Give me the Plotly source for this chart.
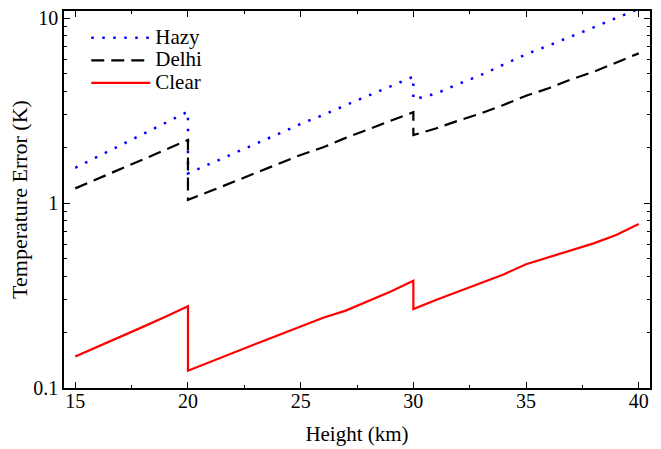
import plotly.graph_objects as go

height = [15, 16, 17, 18, 19, 20, 20, 21, 22, 23, 24, 25, 26, 27, 28, 29, 30,
          30, 31, 32, 33, 34, 35, 36, 37, 38, 39, 40]

hazy = [1.55, 1.78, 2.05, 2.35, 2.7, 3.12, 1.445, 1.63, 1.84, 2.08, 2.36, 2.68, 2.99, 3.38, 3.8, 4.3, 4.82,
        3.63, 3.9, 4.4, 4.92, 5.6, 6.37, 7.1, 7.93, 8.9, 10.0, 11.2]

delhi = [1.2, 1.35, 1.53, 1.72, 1.94, 2.19, 1.04, 1.16, 1.3, 1.45, 1.62, 1.82, 2.0, 2.25, 2.5, 2.78, 3.1,
         2.33, 2.53, 2.79, 3.05, 3.39, 3.8, 4.17, 4.66, 5.12, 5.73, 6.44]

clear = [0.148, 0.167, 0.19, 0.214, 0.243, 0.277, 0.124, 0.139, 0.155, 0.173, 0.193, 0.216, 0.24, 0.262, 0.295, 0.332, 0.38,
         0.267, 0.299, 0.332, 0.368, 0.411, 0.467, 0.508, 0.557, 0.605, 0.671, 0.77]

x_ticks = [15, 20, 25, 30, 35, 40]
y_ticks = [0.1, 1, 10]
y_tick_labels = ["0.1", "1", "10"]
y_minor = [0.2, 0.3, 0.4, 0.5, 0.6, 0.7, 0.8, 0.9, 2, 3, 4, 5, 6, 7, 8, 9]

font = "Liberation Serif, Times New Roman, serif"


def legend_name(s):
    return "<span style='font-size:21px'>" + s + "</span>"


fig = go.Figure()
fig.add_trace(go.Scatter(x=height, y=hazy, mode="lines", name=legend_name("Hazy"),
                         line=dict(color="#0000ff", width=2.5, dash="2.5px,8.5px")))
fig.add_trace(go.Scatter(x=height, y=delhi, mode="lines", name=legend_name("Delhi"),
                         line=dict(color="black", width=2.2, dash="13px,7px")))
fig.add_trace(go.Scatter(x=height, y=clear, mode="lines", name=legend_name("Clear"),
                         line=dict(color="#ff0000", width=2.2)))

axis_common = dict(showline=True, linecolor="black", linewidth=1.5, mirror="ticks",
                   ticks="inside", ticklen=6, tickwidth=1.2, tickcolor="black",
                   showgrid=False, zeroline=False, automargin=False,
                   tickfont=dict(family=font, size=20, color="black"))

fig.update_xaxes(range=[14.5, 40.5], tickvals=x_ticks, ticklabelstandoff=-6,
                 minor=dict(dtick=2.5, tick0=15, ticks="inside", ticklen=3, tickcolor="black"),
                 title=dict(text="Height (km)", font=dict(family=font, size=21, color="black"), standoff=16),
                 **axis_common)
fig.update_yaxes(type="log", range=[-1, 1.038], tickvals=y_ticks, ticktext=y_tick_labels,
                 minor=dict(tickvals=y_minor, ticks="inside", ticklen=3, tickcolor="black"),
                 title=dict(text="Temperature Error (K)", font=dict(family=font, size=22, color="black"), standoff=0),
                 **axis_common)

fig.update_layout(
    width=661, height=449,
    margin=dict(l=64, r=11, t=11, b=61),
    paper_bgcolor="white", plot_bgcolor="white",
    font=dict(family=font, color="black"),
    legend=dict(x=0.038, y=0.972, xanchor="left", yanchor="top",
                bgcolor="rgba(0,0,0,0)", font=dict(family=font, size=15, color="black"),
                tracegroupgap=0, itemwidth=59),
    showlegend=True,
)

fig.write_html("out.html")
